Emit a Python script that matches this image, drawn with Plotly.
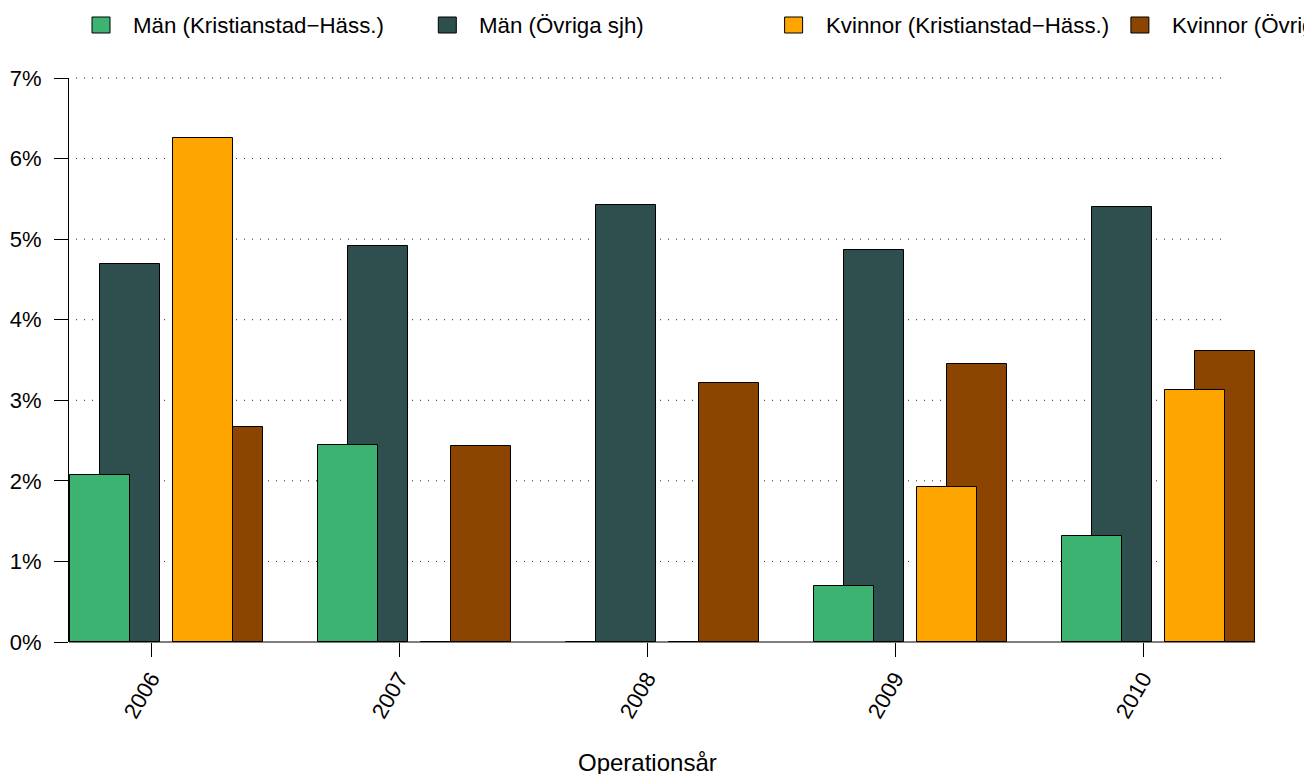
import plotly.graph_objects as go

# ---------------- data ----------------
years = [2006, 2007, 2008, 2009, 2010]
series_names = [
    "Män (Kristianstad−Häss.)",
    "Män (Övriga sjh)",
    "Kvinnor (Kristianstad−Häss.)",
    "Kvinnor (Övriga sjh)",
]
man_kh = [2.07, 2.45, 0.0, 0.70, 1.31]
man_ovr = [4.69, 4.91, 5.43, 4.86, 5.40]
kv_kh = [6.26, 0.0, 0.0, 1.92, 3.13]
kv_ovr = [2.67, 2.43, 3.21, 3.45, 3.61]
y_tickvals = [0, 1, 2, 3, 4, 5, 6, 7]
y_ticktext = ["0%", "1%", "2%", "3%", "4%", "5%", "6%", "7%"]
x_title = "Operationsår"

# ---------------- style / layout ----------------
colors = ["#3CB371", "#2F4F4F", "#FFA500", "#8B4500"]
offsets = [-0.2056, -0.0847, 0.2097, 0.3306]
bar_w = 0.244
FONT = "Liberation Sans, Arial, Helvetica, sans-serif"

PAGE_OFF = 8            # default page margin around the plot div
WIN_W, WIN_H = 1312, 774
W, H = WIN_W - PAGE_OFF, WIN_H - PAGE_OFF
# plot area in window pixels
PL, PR, PT, PB = 69, 1312, 78, 642
L, T = PL - PAGE_OFF, PT - PAGE_OFF
R, B = 0, WIN_H - PB
PITCH = 248.0   # px per year
X0PX = 151.0    # px position of first year
plotW = PR - PL
plotH = PB - PT


def px2x(px):
    return years[0] + (px - X0PX) / PITCH


def px2paper(px):
    return (px - PL) / plotW


def py2paper(py):
    return (PB - py) / plotH


xrange = [px2x(PL), px2x(PR)]
yrange = [0, 7]

series = [man_kh, man_ovr, kv_kh, kv_ovr]
draw_order = [1, 0, 3, 2]  # Övriga behind, Kristianstad in front

fig = go.Figure()
for i in draw_order:
    fig.add_trace(go.Bar(
        x=[yr + offsets[i] for yr in years],
        y=series[i],
        width=bar_w,
        name=series_names[i],
        marker=dict(color=colors[i], line=dict(color="black", width=1)),
        showlegend=False,
    ))

shapes = []
# dotted grid lines
for v in y_tickvals[1:]:
    shapes.append(dict(
        type="line", xref="x", yref="paper",
        x0=px2x(76), x1=px2x(1224), y0=v / yrange[1], y1=v / yrange[1],
        line=dict(color="#222222", width=1, dash="1px,7px"), layer="below",
    ))
# zero line
shapes.append(dict(
    type="line", xref="x", yref="paper",
    x0=xrange[0], x1=years[-1] + offsets[3] + bar_w / 2, y0=0, y1=0,
    line=dict(color="black", width=1), layer="above",
))

annotations = []
# manual legend
for i, name in enumerate(series_names):
    left = 92 + i * 346.3
    shapes.append(dict(
        type="rect", xref="paper", yref="paper",
        x0=px2paper(left), x1=px2paper(left + 18),
        y0=py2paper(33), y1=py2paper(17),
        fillcolor=colors[i], line=dict(color="black", width=1),
    ))
    annotations.append(dict(
        text=name, xref="paper", yref="paper",
        x=px2paper(left + 39), y=py2paper(25),
        xanchor="left", yanchor="middle", showarrow=False,
        font=dict(family=FONT, size=22.3, color="black"),
    ))

# x-axis title
annotations.append(dict(
    text=x_title, xref="x", yref="paper", x=years[2], y=0,
    yshift=-(762 - PB), xanchor="center", yanchor="middle", showarrow=False,
    font=dict(family=FONT, size=24, color="black"),
))

fig.update_layout(
    width=W, height=H,
    margin=dict(l=L, r=R, t=T, b=B, pad=0),
    paper_bgcolor="white", plot_bgcolor="white",
    barmode="overlay",
    bargap=0,
    font=dict(family=FONT, size=22, color="black"),
    shapes=shapes,
    annotations=annotations,
    showlegend=False,
    xaxis=dict(
        range=xrange, showgrid=False, zeroline=False, showline=False,
        tickmode="array", tickvals=years, ticktext=[str(y) for y in years],
        ticks="outside", ticklen=14, tickwidth=1, tickcolor="black",
        tickangle=-60, tickfont=dict(family=FONT, size=22, color="black"),
    ),
    yaxis=dict(
        range=yrange, showgrid=False, zeroline=False,
        showline=True, linecolor="black", linewidth=1,
        tickmode="array", tickvals=y_tickvals, ticktext=y_ticktext,
        ticks="outside", ticklen=14, tickwidth=1, tickcolor="black",
        ticklabelstandoff=8,
        tickfont=dict(family=FONT, size=22, color="black"),
    ),
)

fig.write_html("out.html")
